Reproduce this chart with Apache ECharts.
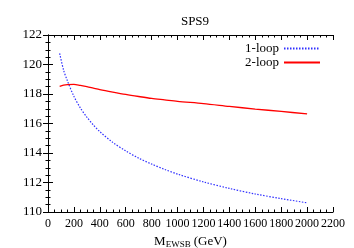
<!DOCTYPE html>
<html><head><meta charset="utf-8">
<script src="https://cdn.jsdelivr.net/npm/echarts@6/dist/echarts.min.js"></script>
<style>html,body{margin:0;padding:0;background:#fff}#c{width:354px;height:248px}</style>
</head><body><div id="c"></div>
<script>
var xValues = [90,120,150,200,250,300,350,400,500,600,700,800,900,1000,1200,1400,1600,1800,2000];
var oneLoop = [120.75,119.63,118.89,117.84,117.05,116.43,115.9,115.45,114.72,114.14,113.65,113.25,112.89,112.57,112.04,111.6,111.22,110.91,110.62];
var twoLoop = [118.52,118.6,118.64,118.65,118.58,118.5,118.4,118.3,118.13,117.97,117.83,117.7,117.6,117.5,117.35,117.16,116.98,116.82,116.65];
var seriesNames = ['1-loop','2-loop'];
var titleText = 'SPS9';

var FONT = "'Liberation Serif', 'Times New Roman', Tinos, 'DejaVu Serif', serif";
function pairs(xs, ys){ return xs.map(function(x,i){return [x, ys[i]];}); }
var chart = echarts.init(document.getElementById('c'), null, {renderer:'canvas'});
var axisCommon = {
  axisLine:{show:true, lineStyle:{color:'#000', width:1}},
  axisTick:{show:true, inside:true, length:5, lineStyle:{color:'#000'}},
  minorTick:{show:true, splitNumber:4, length:2.5, lineStyle:{color:'#000'}},
  splitLine:{show:false}
};
chart.setOption({
  animation:false,
  backgroundColor:'#fff',
  textStyle:{fontFamily:FONT},
  title:{text:titleText, left:190, top:10, textAlign:'center',
    textStyle:{fontFamily:FONT, fontSize:13, fontWeight:'normal', color:'#000'}},
  legend:{orient:'vertical', right:28, top:37, align:'right', itemWidth:36, itemHeight:12, itemGap:1,
    itemStyle:{opacity:0},
    textStyle:{fontFamily:FONT, fontSize:13, color:'#000'},
    data:seriesNames},
  grid:{left:48, right:21, top:35, bottom:36, containLabel:false, outerBoundsMode:'none'},
  xAxis:[
    Object.assign({type:'value', min:0, max:2200, interval:200, position:'bottom',
      axisLabel:{fontFamily:FONT, fontSize:12, color:'#000', margin:6, formatter:function(v){return String(v);}},
      name:'{m|M}{s|EWSB} {m|(GeV)}', nameLocation:'middle', nameGap:21,
      nameTextStyle:{rich:{m:{fontFamily:FONT, fontSize:13, color:'#000'},
        s:{fontFamily:FONT, fontSize:9, color:'#000', verticalAlign:'bottom', padding:[6,0,0,0]}}}
    }, axisCommon),
    Object.assign({type:'value', min:0, max:2200, interval:200, position:'top', axisLabel:{show:false}}, axisCommon)
  ],
  yAxis:[
    Object.assign({type:'value', min:110, max:122, interval:2, position:'left',
      axisLabel:{fontFamily:FONT, fontSize:13, color:'#000', margin:6}}, axisCommon),
    Object.assign({type:'value', min:110, max:122, interval:2, position:'right', axisLabel:{show:false}}, axisCommon)
  ],
  series:[
    {name:seriesNames[0], type:'line', data:pairs(xValues, oneLoop), showSymbol:false, symbol:'none', smooth:0.3,
      itemStyle:{color:'#3030ff'}, lineStyle:{color:'#3030ff', width:1.2, type:[1.5,1.5]}},
    {name:seriesNames[1], type:'line', data:pairs(xValues, twoLoop), showSymbol:false, symbol:'none', smooth:0.3,
      itemStyle:{color:'#ff0000'}, lineStyle:{color:'#ff0000', width:1.3}}
  ]
});
</script></body></html>
